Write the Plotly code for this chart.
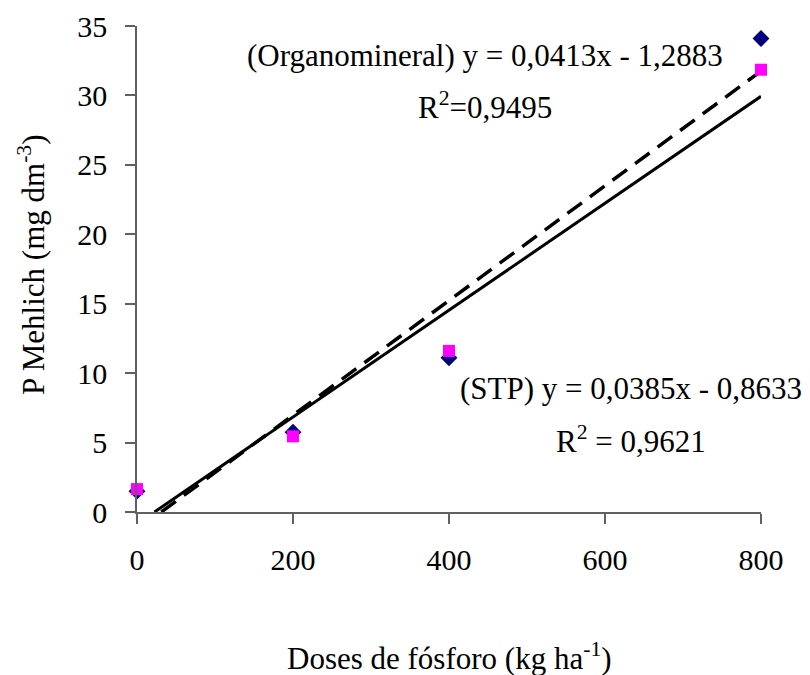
import plotly.graph_objects as go

doses = [0, 200, 400, 800]
organomineral = [1.5, 5.75, 11.1, 34.1]
stp = [1.65, 5.45, 11.6, 31.85]

org_slope, org_intercept, org_r2 = 0.0413, -1.2883, "0,9495"
stp_slope, stp_intercept, stp_r2 = 0.0385, -0.8633, "0,9621"

x_ticks = [0, 200, 400, 600, 800]
y_ticks = [0, 5, 10, 15, 20, 25, 30, 35]

FONT = "Liberation Serif"
FS = 30
FS_TXT = 31

def trend(slope, intercept):
    xs = [-intercept / slope, max(doses)]
    ys = [slope * x + intercept for x in xs]
    return xs, ys

fig = go.Figure()

ox, oy = trend(org_slope, org_intercept)
sx, sy = trend(stp_slope, stp_intercept)

fig.add_trace(go.Scatter(x=sx, y=sy, mode="lines",
                         line=dict(color="black", width=3), showlegend=False))
fig.add_trace(go.Scatter(x=ox, y=oy, mode="lines",
                         line=dict(color="black", width=3.5, dash="18px,10px"), showlegend=False))
fig.add_trace(go.Scatter(x=doses, y=organomineral, mode="markers", cliponaxis=False,
                         marker=dict(symbol="diamond", size=13, color="#000080"),
                         showlegend=False))
fig.add_trace(go.Scatter(x=doses, y=stp, mode="markers", cliponaxis=False,
                         marker=dict(symbol="square", size=12, color="#FF00FF"),
                         showlegend=False))

annots = [
    dict(x=446, y=32.9, text="(Organomineral) y = 0,0413x - 1,2883"),
    dict(x=446, y=29.3, text="R<sup>2</sup>=" + org_r2),
    dict(x=633, y=8.86, text="(STP) y = 0,0385x - 0,8633"),
    dict(x=633, y=5.2, text="R<sup>2</sup> = " + stp_r2),
]
for a in annots:
    fig.add_annotation(x=a["x"], y=a["y"], xref="x", yref="y", text=a["text"],
                       showarrow=False, xanchor="center", yanchor="middle",
                       font=dict(family=FONT, size=FS_TXT, color="black"))

fig.add_annotation(x=0.5, y=-0.298, xref="paper", yref="paper",
                   text="Doses de fósforo (kg ha<sup>-1</sup>)", showarrow=False,
                   xanchor="center", yanchor="middle",
                   font=dict(family=FONT, size=FS_TXT, color="black"))
fig.add_annotation(x=-0.17, y=0.51, xref="paper", yref="paper",
                   text="P Mehlich (mg dm<sup>-3</sup>)", showarrow=False, textangle=-90,
                   xanchor="center", yanchor="middle",
                   font=dict(family=FONT, size=FS_TXT, color="black"))

axis_common = dict(showgrid=False, zeroline=False, showline=True, linecolor="#606060",
                   linewidth=1.5, ticks="outside", ticklen=10, tickcolor="#606060",
                   tickwidth=1.5, automargin=False,
                   tickfont=dict(family=FONT, size=FS, color="black"))

fig.update_xaxes(range=[0, 800], tickvals=x_ticks, ticklabelstandoff=10, **axis_common)
fig.update_yaxes(range=[0, 35], tickvals=y_ticks, ticklabelstandoff=12, **axis_common)

fig.update_layout(width=802, height=667, margin=dict(l=129, r=49, t=18, b=163),
                  plot_bgcolor="white", paper_bgcolor="white",
                  font=dict(family=FONT, size=FS, color="black"))

fig.write_html("out.html")
